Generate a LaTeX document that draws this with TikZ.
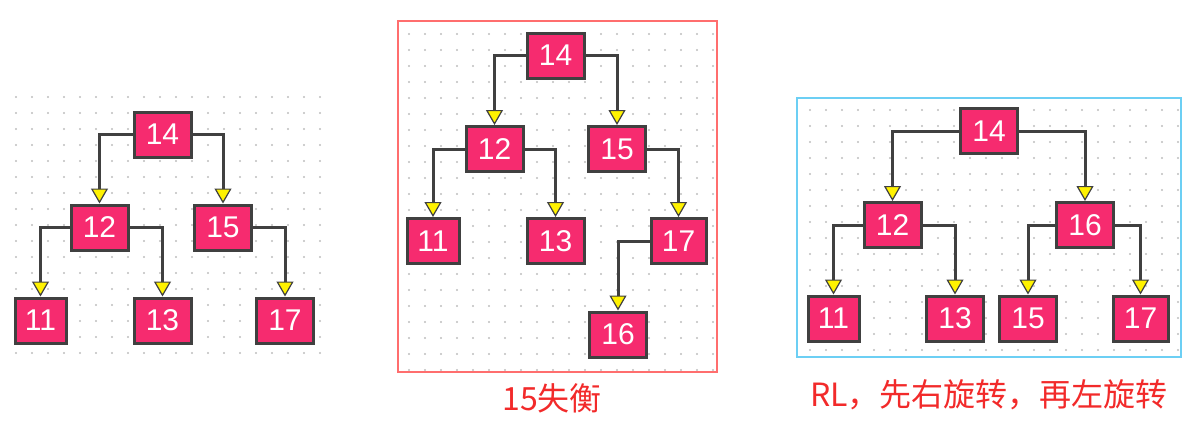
\documentclass[tikz,border=0pt]{standalone}
\usepackage{fontspec}
\setmainfont{Liberation Sans}
\newfontfamily\cjk{Noto Sans CJK SC}
\usepackage{tikz}
\usetikzlibrary{positioning,calc,arrows.meta}

\definecolor{nodepink}{HTML}{F62B6F}
\definecolor{edgegray}{HTML}{404040}
\definecolor{dotgray}{HTML}{BDBDBD}
\definecolor{framered}{HTML}{FF6E6E}
\definecolor{framecyan}{HTML}{6CCFF4}
\definecolor{labelred}{HTML}{F22A2A}

\tikzset{
  treenode/.style = {draw = edgegray, line width = 3pt, fill = nodepink,
    text = white, font = \fontsize{30}{32}\selectfont, inner sep = 0pt,
    minimum width = 57pt, minimum height = 45pt},
  link/.style = {draw = edgegray, line width = 3pt,
    -{Triangle[width = 17pt, length = 15pt, line width = 1.2pt, fill = yellow]}},
  caption/.style = {text = labelred, font = \cjk\fontsize{32}{34}\selectfont}
}

\begin{document}
\begin{tikzpicture}[x = 1pt, y = -1pt]
  \useasboundingbox (0,0) rectangle (1201,424);

  % dot grids
  \foreach \x in {16,32,...,320}
    \foreach \y in {97,113,...,353}
      \fill[dotgray] (\x,\y) circle (1.1pt);
  \foreach \x in {409,425,...,713}
    \foreach \y in {34,50,...,370}
      \fill[dotgray] (\x,\y) circle (1.1pt);
  \foreach \x in {810,826,...,1178}
    \foreach \y in {110,126,...,350}
      \fill[dotgray] (\x,\y) circle (1.1pt);

  % frames
  \draw[framered, line width = 2pt] (398,21) rectangle (717,372);
  \draw[framecyan, line width = 2pt] (797,98) rectangle (1181,357);

  % tree before insert
  \node[treenode] (L14) at (162.5,134.5) {14};
  \node[treenode] (L12) at (99.5,227.5) {12};
  \node[treenode] (L15) at (223,227.5) {15};
  \node[treenode, minimum width = 51pt] (L11) at (40.5,320.5) {11};
  \node[treenode] (L13) at (162.5,320.5) {13};
  \node[treenode] (L17) at (285,320.5) {17};

  % tree after insert of 16
  \node[treenode] (M14) at (555.5,55.5) {14};
  \node[treenode] (M12) at (494.5,149) {12};
  \node[treenode] (M15) at (617,149) {15};
  \node[treenode, minimum width = 52pt] (M11) at (433,241) {11};
  \node[treenode] (M13) at (555.5,241) {13};
  \node[treenode, minimum width = 55pt] (M17) at (678.5,241) {17};
  \node[treenode] (M16) at (618,334.5) {16};

  % tree after rotation
  \node[treenode] (R14) at (989,131) {14};
  \node[treenode] (R12) at (892.5,225) {12};
  \node[treenode] (R16) at (1085,225) {16};
  \node[treenode, minimum width = 51pt] (R11) at (833.5,318.5) {11};
  \node[treenode] (R13) at (955,318.5) {13};
  \node[treenode] (R15) at (1028,318.5) {15};
  \node[treenode, minimum width = 55pt] (R17) at (1140.5,318.5) {17};

  % links
  \foreach \p/\c/\s in {L14/L12/west, L14/L15/east, L12/L11/west,
      L12/L13/east, L15/L17/east,
      M14/M12/west, M14/M15/east, M12/M11/west, M12/M13/east,
      M15/M17/east, M17/M16/west,
      R14/R12/west, R14/R16/east, R12/R11/west, R12/R13/east,
      R16/R15/west, R16/R17/east}
    \draw[link] (\p.\s) -| (\c.north);

  % captions
  \node[caption] (unbal) at (552,398) {15失衡};
  \node[caption, anchor = west, inner sep = 0pt] (rlcap) at (810,395)
    {RL，先右旋转，再左旋转};
\end{tikzpicture}
\end{document}
